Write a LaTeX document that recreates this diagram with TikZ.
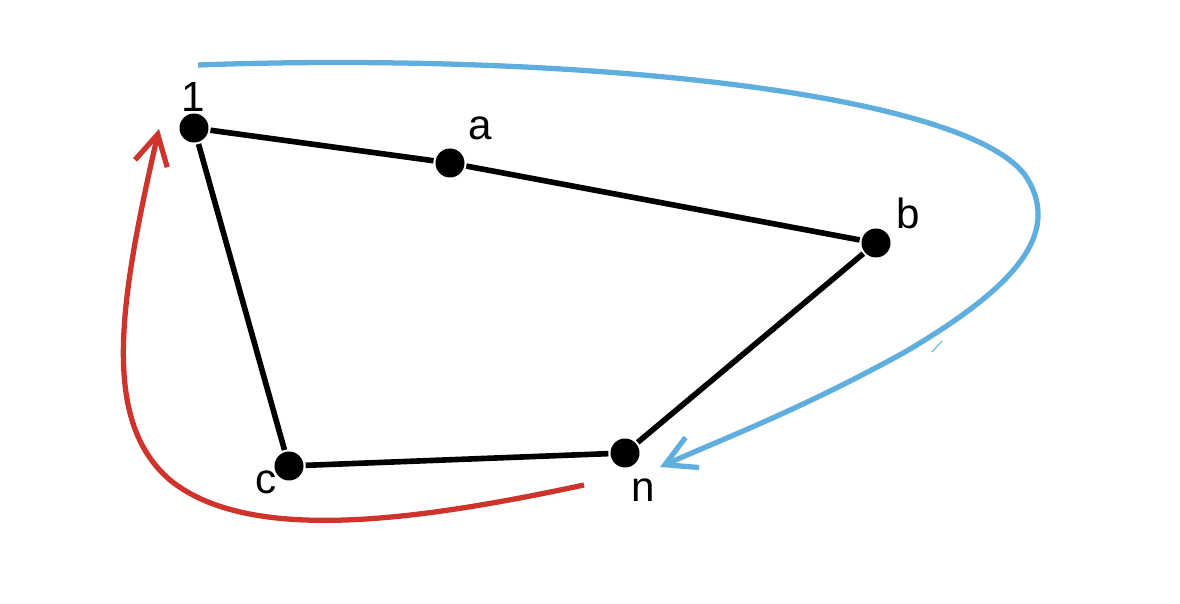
\documentclass[tikz,border=0pt]{standalone}
\usepackage{fontspec}
\setmainfont{Liberation Sans}
\usetikzlibrary{arrows.meta}
\definecolor{cblue}{RGB}{95,174,222}
\definecolor{cred}{RGB}{206,52,44}
\begin{document}
\begin{tikzpicture}[x=0.02cm,y=-0.02cm,
  dot/.style={circle,fill=black,inner sep=0pt,minimum size=0.58cm},
  lbl/.style={font=\fontsize{24}{28}\selectfont,inner sep=0pt},
  edge/.style={line width=3.2pt,black,shorten <=1pt,shorten >=1pt},
  barb/.style={-{Straight Barb[length=0.6cm,width=0.66cm,line width=3pt]}},
]
\useasboundingbox (0,0) rectangle (1180,604);
\node[dot] (n1) at (194,128) {};
\node[dot] (na) at (450,163) {};
\node[dot] (nb) at (876,243) {};
\node[dot] (nn) at (625,453) {};
\node[dot] (nc) at (289,466) {};
\node[lbl] (l1) at (193,97) {1};
\node[lbl] (la) at (480,128) {a};
\node[lbl] (lb) at (908,213) {b};
\node[lbl] (ln) at (643,490) {n};
\node[lbl] (lc) at (266,482) {c};
\draw[edge] (n1) -- (na);
\draw[edge] (na) -- (nb);
\draw[edge] (nb) -- (nn);
\draw[edge] (nn) -- (nc);
\draw[edge] (nc) -- (n1);
\coordinate (bs) at (198,65);
\coordinate (be) at (660,467);
\draw[cblue,line width=3pt,barb] (bs) .. controls (560,52) and (960,90) .. (1025,175) .. controls (1065,235) and (1010,290) .. (905,352) .. controls (800,410) and (720,440) .. (be);
\coordinate (rs) at (584,485);
\coordinate (re) at (159,129);
\draw[cred,line width=3pt,barb] (rs) .. controls (420,520) and (250,545) .. (170,480) .. controls (100,420) and (120,300) .. (re);
\draw[cblue,line width=0.6pt] (932,352) -- (942,341);
\end{tikzpicture}
\end{document}
